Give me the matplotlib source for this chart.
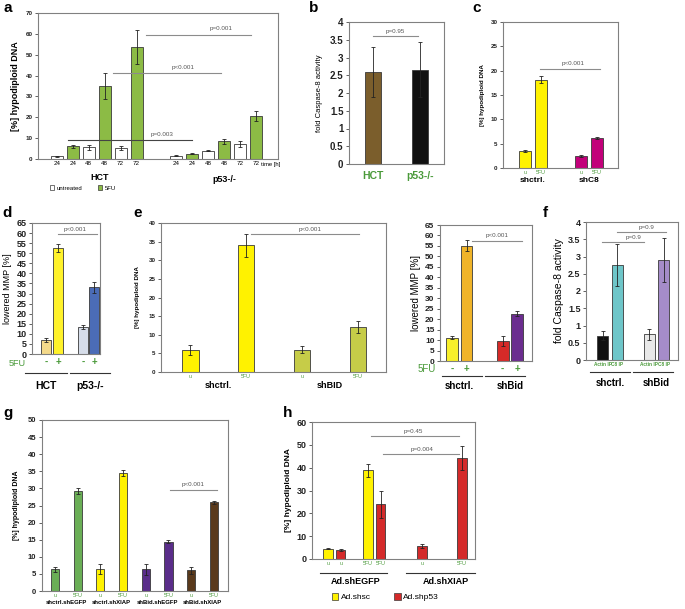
import numpy as np
import matplotlib
matplotlib.use("Agg")
import matplotlib.pyplot as plt
from matplotlib.patches import Rectangle

plt.rcParams["font.family"] = ["Liberation Sans", "DejaVu Sans"]

# ---------------------------------------------------------------------------
# Data
# ---------------------------------------------------------------------------
# a: hypodiploid DNA over time, HCT vs p53-/-
a_hours = ["24", "24", "48", "48", "72", "72"]
a_hct = [1.3, 6.0, 5.6, 35.0, 5.3, 53.8]
a_hct_err = [0.2, 0.6, 1.2, 6.3, 0.9, 8.1]
a_p53 = [1.6, 2.5, 4.0, 8.4, 7.2, 20.4]
a_p53_err = [0.3, 0.3, 0.3, 1.2, 1.3, 2.4]

# b: fold caspase-8 activity
b_groups = ["HCT", "p53-/-"]
b_vals = [2.6, 2.66]
b_err = [0.7, 0.78]

# c: shctrl / shC8
c_ticks = ["u", "5FU", "u", "5FU"]
c_groups = ["shctrl.", "shC8"]
c_vals = [3.5, 18.15, 2.45, 6.2]
c_err = [0.3, 0.7, 0.15, 0.2]

# d: lowered MMP
d_ticks = ["-", "+", "-", "+"]
d_groups = ["HCT", "p53-/-"]
d_vals = [7.1, 52.6, 13.4, 33.0]
d_err = [0.9, 2.0, 1.2, 2.6]

# e (left): hypodiploid DNA shctrl / shBID
e1_ticks = ["u", "5FU", "u", "5FU"]
e1_groups = ["shctrl.", "shBID"]
e1_vals = [5.85, 34.0, 6.0, 12.1]
e1_err = [1.3, 3.0, 1.0, 1.6]

# e (right): lowered MMP shctrl / shBid
e2_ticks = ["-", "+", "-", "+"]
e2_groups = ["shctrl.", "shBid"]
e2_vals = [11.1, 55.1, 9.6, 22.5]
e2_err = [0.8, 2.5, 2.3, 1.2]

# f: fold caspase-8 activity after IP
f_ticks = ["Actin IP", "C8 IP", "Actin IP", "C8 IP"]
f_groups = ["shctrl.", "shBid"]
f_vals = [0.71, 2.76, 0.75, 2.9]
f_err = [0.14, 0.61, 0.16, 0.63]

# g: double knockdowns
g_ticks = ["u", "5FU"] * 4
g_groups = ["shctrl.shEGFP", "shctrl.shXIAP", "shBid.shEGFP", "shBid.shXIAP"]
g_vals = [6.3, 29.3, 6.4, 34.4, 6.3, 14.4, 6.0, 25.9]
g_err = [0.7, 0.8, 1.4, 0.9, 1.7, 0.5, 1.0, 0.4]

# h: adenoviral knockdowns
h_ticks = ["u", "u", "5FU", "5FU", "u", "5FU"]
h_groups = ["Ad.shEGFP", "Ad.shXIAP"]
h_series = ["Ad.shsc", "Ad.shp53", "Ad.shsc", "Ad.shp53", "Ad.shp53", "Ad.shp53"]
h_vals = [4.5, 4.1, 38.8, 24.0, 5.6, 44.2]
h_err = [0.3, 0.4, 3.0, 6.0, 1.0, 5.4]

# ---------------------------------------------------------------------------
# Helpers
# ---------------------------------------------------------------------------
W, H = 685, 609
fig = plt.figure(figsize=(W / 100, H / 100), dpi=100)

GREEN_TXT = "#4a9a3a"
EDGE = "#3a3a3a"


def add_panel(box, ytop, ystep, fs, bold=True):
    l, t, r, b = box
    ax = fig.add_axes([l / W, 1 - b / H, (r - l) / W, (b - t) / H])
    ticks = np.arange(0, ytop + ystep / 2, ystep)
    ax.set_ylim(0, ytop)
    ax.set_yticks(ticks)
    ax.set_yticklabels([f"{v:g}" for v in ticks], fontsize=fs,
                       fontweight="bold" if bold else "normal")
    ax.tick_params(axis="y", length=2, width=0.5, pad=2, colors="#222222")
    ax.tick_params(axis="x", length=0, pad=1.5)
    for s in ax.spines.values():
        s.set_color("#808080")
        s.set_linewidth(0.8)
    ax.box = box
    return ax


def yf(ax, ypx):
    # figure pixel row -> axes fraction (for labels under the axes)
    l, t, r, b = ax.box
    return (b - ypx) / (b - t)


def bars(ax, x, h, e, colors, w):
    ax.bar(x, h, w, yerr=e, color=colors, edgecolor=EDGE, linewidth=0.6,
           error_kw=dict(ecolor="#222222", elinewidth=0.6, capsize=1.5, capthick=0.6))


def sig(ax, x0, x1, y, text, tx, ty, fs=4.5, color="#8c8c8c"):
    ax.plot([x0, x1], [y, y], color=color, lw=0.8)
    ax.text(tx, ty, text, ha="center", va="center", fontsize=fs, color="#555555")


def under(ax, x, ypx, text, fs, ha="center", **kw):
    ax.text(x, yf(ax, ypx), text, transform=ax.get_xaxis_transform(),
            ha=ha, va="center", fontsize=fs, clip_on=False, **kw)


def underline(ax, x0, x1, ypx):
    ax.plot([x0, x1], [yf(ax, ypx)] * 2, transform=ax.get_xaxis_transform(),
            color="#333333", lw=0.8, clip_on=False)


def letter(xpx, ypx, s):
    fig.text(xpx / W, 1 - ypx / H, s, fontsize=11, fontweight="bold",
             ha="left", va="center")


# ---------------------------------------------------------------------------
# a
# ---------------------------------------------------------------------------
ax = add_panel((38, 13, 278, 159), 70, 10, 4.5)
xa_hct = np.arange(6)
xa_p53 = np.arange(6) + 7.5
a_cols = ["white", "#8cbb45"] * 3
bars(ax, xa_hct, a_hct, a_hct_err, a_cols, 0.75)
bars(ax, xa_p53, a_p53, a_p53_err, a_cols, 0.75)
ax.set_xlim(-1.2, 13.9)
ax.set_xticks(np.concatenate([xa_hct, xa_p53]))
ax.set_xticklabels(a_hours * 2, fontsize=4.5)
ax.set_ylabel("[%] hypodiploid DNA", fontsize=6.5, fontweight="bold", labelpad=4)
sig(ax, 5.6, 12.2, 59.5, "p=0.001", 10.3, 62.8)
sig(ax, 3.5, 10.3, 41.0, "p<0.001", 7.9, 44.0)
sig(ax, 0.7, 8.5, 9.2, "p=0.003", 6.6, 11.8, color="#444444")
under(ax, 12.8, 164.5, "time [h]", 4.2, ha="left")
under(ax, 2.7, 178, "HCT", 6.5, fontweight="bold")
under(ax, 10.5, 179, "p53-/-", 6.5, fontweight="bold")
ax.legend([Rectangle((0, 0), 1, 1, fc="white", ec=EDGE, lw=0.5),
           Rectangle((0, 0), 1, 1, fc="#8cbb45", ec=EDGE, lw=0.5)],
          ["untreated", "5FU"], loc="upper left", bbox_to_anchor=(0.04, yf(ax, 183)),
          ncol=2, frameon=False, fontsize=4.3, handlelength=0.7, handleheight=0.7,
          handletextpad=0.4, columnspacing=2.6, borderaxespad=0)
letter(3, 8, "a")

# ---------------------------------------------------------------------------
# b
# ---------------------------------------------------------------------------
ax = add_panel((349, 22, 444, 164), 4, 0.5, 7)
xb = np.arange(2)
bars(ax, xb, b_vals, b_err, ["#7b5e2c", "#111111"], 0.32)
ax.set_xlim(-0.51, 1.51)
ax.set_xticks(xb)
ax.set_xticklabels(b_groups, fontsize=7.5, fontweight="bold", color=GREEN_TXT)
ax.tick_params(axis="x", pad=5)
ax.set_ylabel("fold Caspase-8 activity", fontsize=5.5, labelpad=5)
sig(ax, 0.0, 0.96, 3.6, "p=0.95", 0.47, 3.73)
letter(309, 8, "b")

# ---------------------------------------------------------------------------
# c
# ---------------------------------------------------------------------------
ax = add_panel((503, 22, 618, 168), 30, 5, 4.5)
xc = np.array([0, 1, 3.5, 4.5])
bars(ax, xc, c_vals, c_err, ["#fff200", "#fff200", "#c2007a", "#c2007a"], 0.8)
ax.set_xlim(-1.375, 5.81)
ax.set_xticks(xc)
ax.set_xticklabels(c_ticks, fontsize=3.8, color=GREEN_TXT)
ax.set_ylabel("[%] hypodiploid DNA", fontsize=4.5, fontweight="bold", labelpad=4)
sig(ax, 0.94, 4.69, 20.4, "p<0.001", 3.0, 21.4)
under(ax, 0.5, 181, c_groups[0], 6, fontweight="bold")
under(ax, 4.0, 181, c_groups[1], 6, fontweight="bold")
letter(472, 8, "c")

# ---------------------------------------------------------------------------
# d
# ---------------------------------------------------------------------------
ax = add_panel((32, 223, 100, 354), 65, 5, 6.5)
xd = np.array([0, 1, 3.1, 4.0])
bars(ax, xd, d_vals, d_err, ["#f4d98a", "#fff22a", "#d6dde9", "#4b6cb7"], 0.8)
ax.set_xlim(-1.17, 4.5)
ax.set_xticks(xd)
ax.set_xticklabels(d_ticks, fontsize=7, fontweight="bold", color=GREEN_TXT)
ax.tick_params(axis="x", pad=2)
ax.set_ylabel("lowered MMP [%]", fontsize=6.5, labelpad=3)
sig(ax, 1.0, 4.25, 59.5, "p<0.001", 2.4, 61.8)
under(ax, -2.4, 364, "5FU", 6.5, color=GREEN_TXT)
underline(ax, -1.75, 1.75, 373)
underline(ax, 2.0, 5.33, 373)
under(ax, 0.0, 386, d_groups[0], 7.5, fontweight="bold")
under(ax, 3.7, 386, d_groups[1], 7.5, fontweight="bold")
letter(2, 213, "d")

# ---------------------------------------------------------------------------
# e (left)
# ---------------------------------------------------------------------------
ax = add_panel((161, 223, 386, 372), 40, 5, 4.5)
xe = np.arange(4)
bars(ax, xe, e1_vals, e1_err, ["#fff200", "#fff200", "#c6cc48", "#c6cc48"], 0.3)
ax.set_xlim(-0.52, 3.5)
ax.set_xticks(xe)
ax.set_xticklabels(e1_ticks, fontsize=3.8, color=GREEN_TXT)
ax.set_ylabel("[%] hypodiploid DNA", fontsize=4.5, fontweight="bold", labelpad=6)
sig(ax, 1.09, 3.02, 37.0, "p<0.001", 2.14, 38.3)
under(ax, 0.5, 386, e1_groups[0], 6.5, fontweight="bold")
under(ax, 2.5, 386, e1_groups[1], 6.5, fontweight="bold")
letter(133, 213, "e")

# ---------------------------------------------------------------------------
# e (right)
# ---------------------------------------------------------------------------
ax = add_panel((440, 225, 532, 361), 65, 5, 6)
xe2 = np.array([0, 1, 3.5, 4.5])
bars(ax, xe2, e2_vals, e2_err, ["#f8ef2a", "#f0b429", "#d62a28", "#6b2d8f"], 0.8)
ax.set_xlim(-0.83, 5.52)
ax.set_xticks(xe2)
ax.set_xticklabels(e2_ticks, fontsize=7, fontweight="bold", color=GREEN_TXT)
ax.tick_params(axis="x", pad=2)
ax.set_ylabel("lowered MMP [%]", fontsize=7, labelpad=3)
sig(ax, 1.38, 4.83, 57.3, "p<0.001", 3.1, 59.8)
under(ax, -1.75, 369, "5FU", 7, color=GREEN_TXT)
underline(ax, -0.69, 2.07, 376)
underline(ax, 2.28, 5.03, 376)
under(ax, 0.5, 386, e2_groups[0], 7, fontweight="bold")
under(ax, 4.0, 386, e2_groups[1], 7, fontweight="bold")

# ---------------------------------------------------------------------------
# f
# ---------------------------------------------------------------------------
ax = add_panel((586, 222, 678, 360), 4, 0.5, 6.5)
xf = np.array([0, 1, 3.2, 4.2])
bars(ax, xf, f_vals, f_err, ["#111111", "#6ec6c9", "#e8e8e8", "#a58cc9"], 0.76)
ax.set_xlim(-1.17, 5.17)
ax.set_xticks(xf)
ax.set_xticklabels(f_ticks, fontsize=3.4, fontweight="bold", color=GREEN_TXT)
ax.set_ylabel("fold Caspase-8 activity", fontsize=7.5, labelpad=3)
sig(ax, -0.07, 2.83, 3.42, "p=0.9", 2.07, 3.55)
sig(ax, 0.97, 4.34, 3.71, "p=0.9", 3.03, 3.84)
underline(ax, -0.9, 1.86, 372)
underline(ax, 2.07, 4.83, 372)
under(ax, 0.5, 383, f_groups[0], 7, fontweight="bold")
under(ax, 3.7, 383, f_groups[1], 7, fontweight="bold")
letter(543, 213, "f")

# ---------------------------------------------------------------------------
# g
# ---------------------------------------------------------------------------
ax = add_panel((42, 420, 228, 591), 50, 5, 5.5)
xg = np.arange(8)
g_cols = ["#6aae56"] * 2 + ["#fff200"] * 2 + ["#5a2d8a"] * 2 + ["#5a3a1c"] * 2
bars(ax, xg, g_vals, g_err, g_cols, 0.36)
ax.set_xlim(-0.57, 7.62)
ax.set_xticks(xg)
ax.set_xticklabels(g_ticks, fontsize=3.8, color=GREEN_TXT)
ax.set_ylabel("[%] hypodiploid DNA", fontsize=5, fontweight="bold", labelpad=6)
sig(ax, 5.07, 7.14, 29.5, "p<0.001", 6.1, 31.0)
for i, g in enumerate(g_groups):
    under(ax, 2 * i + 0.5, 602, g, 4.3, fontweight="bold")
letter(3, 413, "g")

# ---------------------------------------------------------------------------
# h
# ---------------------------------------------------------------------------
ax = add_panel((312, 422, 475, 559), 60, 10, 6.5)
xh = np.array([0, 1, 3.2, 4.2, 7.5, 10.7])
h_colmap = {"Ad.shsc": "#fff200", "Ad.shp53": "#d42a2a"}
bars(ax, xh, h_vals, h_err, [h_colmap[s] for s in h_series], 0.76)
ax.set_xlim(-1.3, 11.76)
ax.set_xticks(xh)
ax.set_xticklabels(h_ticks, fontsize=3.8, color=GREEN_TXT)
ax.set_ylabel("[%] hypodiploid DNA", fontsize=6, fontweight="bold", labelpad=3)
sig(ax, 3.44, 10.5, 53.9, "p=0.45", 6.8, 55.9)
sig(ax, 4.4, 10.5, 46.0, "p=0.004", 7.5, 48.0)
underline(ax, -0.64, 4.72, 573)
underline(ax, 6.24, 11.76, 573)
under(ax, 2.2, 582, h_groups[0], 6.5, fontweight="bold")
under(ax, 9.4, 582, h_groups[1], 6.5, fontweight="bold")
ax.legend([Rectangle((0, 0), 1, 1, fc=h_colmap[k], ec=EDGE, lw=0.5) for k in h_colmap],
          list(h_colmap), loc="upper left", bbox_to_anchor=(0.1, yf(ax, 590)),
          ncol=2, frameon=False, fontsize=6, handlelength=0.8, handleheight=0.8,
          handletextpad=0.3, columnspacing=2.8, borderaxespad=0)
letter(283, 413, "h")

fig.savefig("out.png", dpi=100)
